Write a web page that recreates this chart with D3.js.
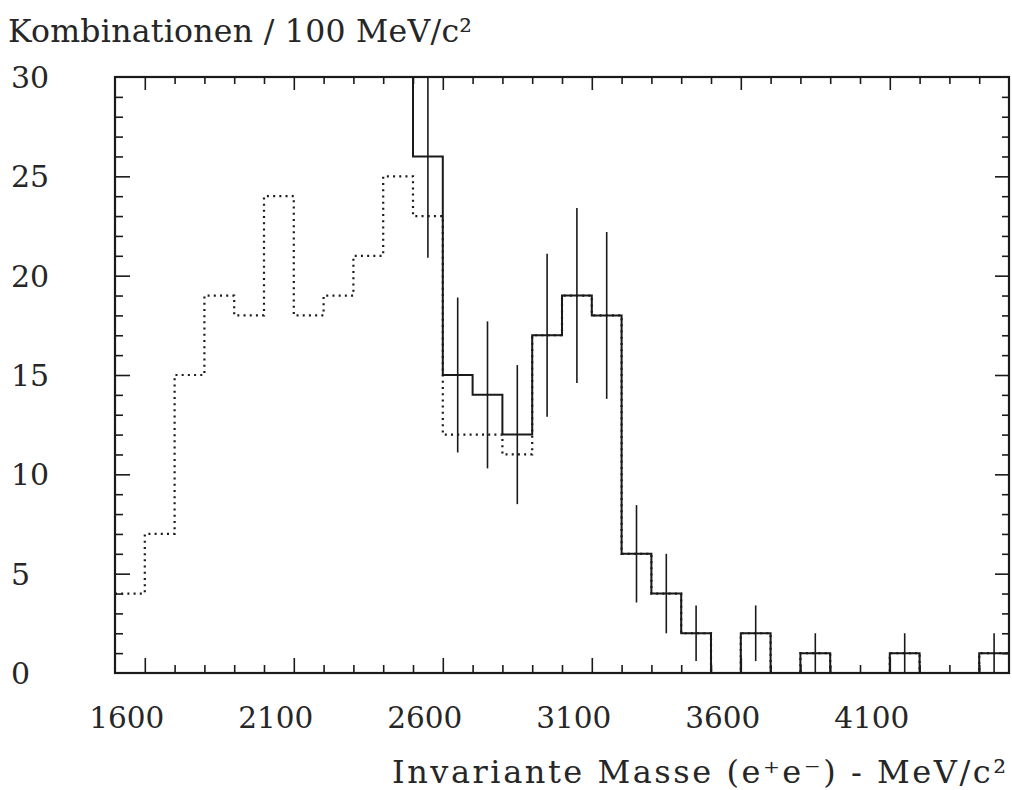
<!DOCTYPE html>
<html>
<head>
<meta charset="utf-8">
<script src="https://cdn.jsdelivr.net/npm/d3@7"></script>
<style>
  html, body { margin: 0; padding: 0; background: #fff; }
  svg { display: block; }
  text { font-family: "DejaVu Serif", "Liberation Serif", serif; fill: #262626; }
</style>
</head>
<body>
<svg id="chart" width="1012" height="790"></svg>
<script>
// Histogram binning (MeV/c^2)
const binLow = 1500;
const binWidth = 100;
const massMax = 4500;

// All e+e- combinations, 1500 .. 4500 in 100 MeV bins (dotted)
const allCombinations = [4, 7, 15, 19, 18, 24, 18, 19, 21, 25,
                         23, 12, 12, 11, 17, 19, 18, 6, 4, 2,
                         0, 2, 0, 1, 0, 0, 1, 0, 0, 1];

// Selected combinations, 2500 .. 4500 (solid, with errors)
const selectedLow = 2500;
const selectedCounts = [26, 15, 14, 12, 17, 19, 18, 6, 4, 2,
                        0, 2, 0, 1, 0, 0, 1, 0, 0, 1];
const selectedErrors = [5.1, 3.9, 3.7, 3.5, 4.1, 4.4, 4.2, 2.45, 2.0, 1.4,
                        0, 1.4, 0, 1.0, 0, 0, 1.0, 0, 0, 1.0];

// Axis ticks and labels
const xLabelTicks = [1600, 2100, 2600, 3100, 3600, 4100];
const yLabelTicks = [0, 5, 10, 15, 20, 25, 30];
const yMax = 30;

const yTitle = "Kombinationen / 100 MeV/c\u00B2";
const xTitle = "Invariante Masse (e\u207Ae\u207B) - MeV/c\u00B2";

const frame = { left: 115, right: 1009, top: 77, bottom: 673 };

const svg = d3.select("#chart");

const x = d3.scaleLinear().domain([binLow, massMax]).range([frame.left, frame.right]);
const y = d3.scaleLinear().domain([0, yMax]).range([frame.bottom, frame.top]);

svg.append("defs").append("clipPath").attr("id", "plot-clip")
  .append("rect")
  .attr("x", frame.left).attr("y", frame.top)
  .attr("width", frame.right - frame.left).attr("height", frame.bottom - frame.top);

const ink = "#1a1a1a";

// Tick positions: every 100 MeV along x, every count along y
const xMinor = d3.range(binLow + binWidth, massMax, binWidth).filter(v => !xLabelTicks.includes(v));
const yMinor = d3.range(1, yMax).filter(v => v % 5 !== 0);
const yMajor = yLabelTicks.filter(v => v > 0 && v < yMax);

const majorLen = 15, minorLen = 8;

function drawAxis(axisFn, scale, values, len, transform) {
  const g = svg.append("g")
    .attr("transform", transform)
    .call(axisFn(scale).tickValues(values).tickSize(-len).tickFormat(""));
  g.select(".domain").remove();
  g.selectAll(".tick line").attr("stroke", ink).attr("stroke-width", 1.6);
}

drawAxis(d3.axisBottom, x, xMinor, minorLen, `translate(0,${frame.bottom})`);
drawAxis(d3.axisBottom, x, xLabelTicks, majorLen, `translate(0,${frame.bottom})`);
drawAxis(d3.axisTop, x, xMinor, minorLen - 1, `translate(0,${frame.top})`);
drawAxis(d3.axisTop, x, xLabelTicks, majorLen - 2, `translate(0,${frame.top})`);
drawAxis(d3.axisLeft, y, yMinor, minorLen, `translate(${frame.left},0)`);
drawAxis(d3.axisLeft, y, yMajor, majorLen, `translate(${frame.left},0)`);
drawAxis(d3.axisRight, y, yMinor, minorLen - 1, `translate(${frame.right},0)`);
drawAxis(d3.axisRight, y, yMajor, majorLen - 1, `translate(${frame.right},0)`);

const plot = svg.append("g").attr("clip-path", "url(#plot-clip)");

// Step outline of a histogram
const stepLine = d3.line()
  .x(d => x(d[0]))
  .y(d => y(d[1]))
  .curve(d3.curveStepAfter);

function histPoints(low, counts, entryLevel) {
  const pts = [];
  if (entryLevel !== undefined) pts.push([low, entryLevel]);
  counts.forEach((c, i) => pts.push([low + i * binWidth, c]));
  pts.push([low + counts.length * binWidth, counts[counts.length - 1]]);
  return pts;
}

// All combinations, dotted
plot.append("path")
  .attr("d", stepLine(histPoints(binLow, allCombinations)))
  .attr("fill", "none")
  .attr("stroke", ink)
  .attr("stroke-width", 2.2)
  .attr("stroke-dasharray", "2 4.2");

// Selected combinations, solid (the bin below 2500 runs off scale)
plot.append("path")
  .attr("d", stepLine(histPoints(selectedLow, selectedCounts, yMax + 2)))
  .attr("fill", "none")
  .attr("stroke", ink)
  .attr("stroke-width", 2);

// Error bars at bin centres
const errData = selectedCounts.map((c, i) => ({
  center: selectedLow + (i + 0.5) * binWidth,
  count: c,
  err: selectedErrors[i]
})).filter(d => d.count > 0);

plot.selectAll("line.err")
  .data(errData)
  .join("line")
  .attr("class", "err")
  .attr("x1", d => x(d.center)).attr("x2", d => x(d.center))
  .attr("y1", d => y(Math.max(0, d.count - d.err)))
  .attr("y2", d => y(d.count + d.err))
  .attr("stroke", ink)
  .attr("stroke-width", 1.6);

// Frame
svg.append("rect")
  .attr("x", frame.left).attr("y", frame.top)
  .attr("width", frame.right - frame.left).attr("height", frame.bottom - frame.top)
  .attr("fill", "none")
  .attr("stroke", ink)
  .attr("stroke-width", 2.2);

// Tick labels
svg.append("g").selectAll("text")
  .data(yLabelTicks)
  .join("text")
  .attr("x", 11)
  .attr("y", d => y(d) + 11)
  .attr("font-size", 30)
  .attr("text-anchor", "start")
  .text(d => d);

svg.append("g").selectAll("text")
  .data(xLabelTicks)
  .join("text")
  .attr("x", d => x(d) - 18)
  .attr("y", 728)
  .attr("font-size", 29.5)
  .attr("text-anchor", "middle")
  .text(d => d);

// Axis titles
svg.append("text")
  .attr("x", 8).attr("y", 42)
  .attr("font-size", 31.5)
  .attr("textLength", 464)
  .attr("lengthAdjust", "spacing")
  .text(yTitle);

svg.append("text")
  .attr("x", 392).attr("y", 783)
  .attr("font-size", 32)
  .attr("textLength", 614)
  .attr("lengthAdjust", "spacing")
  .text(xTitle);
</script>
</body>
</html>
